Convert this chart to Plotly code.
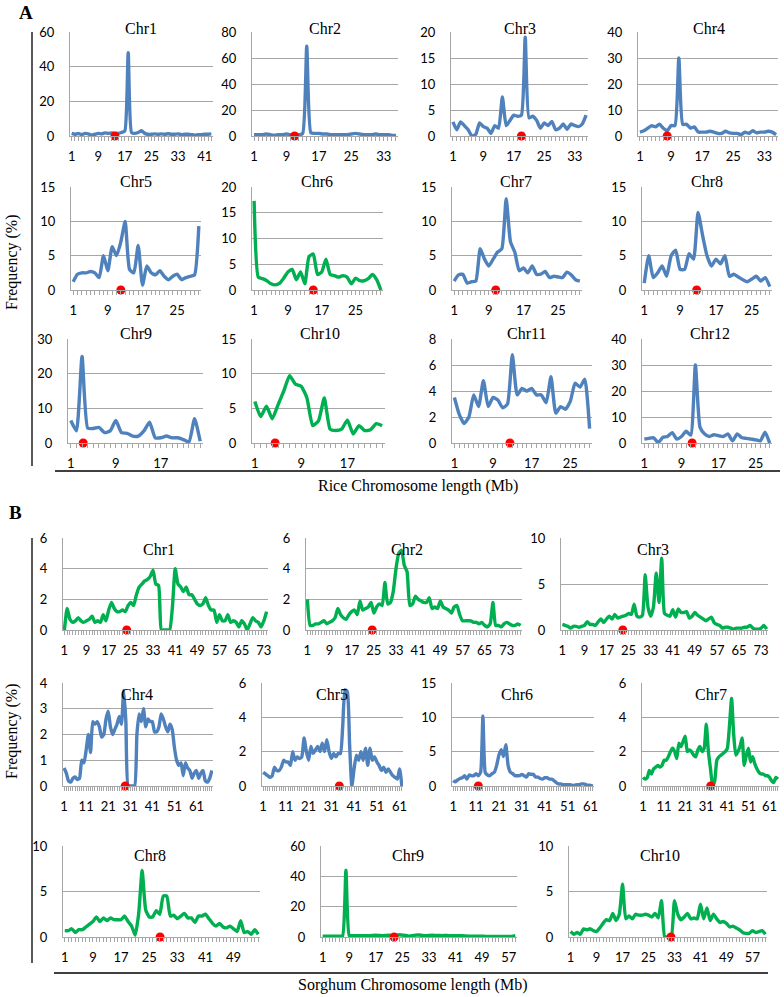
import plotly.graph_objects as go

# ---------------- DATA ----------------
rice_chr1 = [1.5,1,1.5,0.8,1.5,1.2,0.5,1,1.5,1.2,1.8,1.5,1.8,1.5,1.5,2,3,48,2,1.5,2,3,1.5,1,1,1.2,1,1.2,1,1.3,1,1,1.2,0.8,1,1,0.8,0.5,0.8,0.8,1,1,1.2]
rice_chr2 = [1,1,1,1.5,1,0.5,1,1,1.5,1,1.5,1,2,69,2.5,2,2,1.5,1.5,1,1,1,1,1,1.5,2,1.5,1,1,1,1.5,1,1,1,0.5,0.5]
rice_chr3 = [2.7,1.2,2.7,2,1.2,0,0.3,2.5,1.8,1.5,0.5,2,1.5,7.5,2,3,4,3.8,4,19,3.5,3.8,3,1.5,2.5,2,2.8,1.2,1.5,2.3,1.3,2.3,2,1.8,2.3,4]
rice_chr4 = [1.5,2,3,4,3.5,4.5,3,2,4,4,30,4.5,4.5,3,3.5,1.5,1.5,1.5,1.8,1.5,1,1,1.8,1.2,1,1,0.5,1.5,1,2,1.2,1.5,1.5,1.8,1.5,0.5]
rice_chr5 = [1.2,2.3,2.5,2.5,2.7,2.5,1.8,5,2.8,6.3,5,7,10,3,2.5,6.5,0.7,3.5,2.5,2.2,2.8,2,1.5,2,2.3,1.5,1.8,2,2.2,9.3]
rice_chr6 = [17.3,2.5,2.2,1.8,1.2,1.0,1.3,2.3,3.5,4,2,3.5,1.2,6.5,7,3,3.5,6,3,2.8,2.5,2.8,2.5,1.2,2.3,1.8,1.8,2.2,3,2,0]
rice_chr7 = [1.3,2.2,2.3,1,1.2,1.3,6,4.5,3.5,4.5,5.5,6,13.3,7,5.5,2.8,3.2,2.5,3.5,2.3,2.3,2.7,1.8,2,1.9,1.8,2.6,2.2,1.5,1.3]
rice_chr8 = [1,5,1.8,2.5,3.5,2,5,5.8,3,3,5.3,4.5,11.3,8,5,3.5,4.5,3.8,5,2,2.3,1.9,1.5,1.2,1.6,2,1.3,1.8,0.5]
rice_chr9 = [6.5,3.5,25,4.3,4.2,4.5,3,3.5,6.5,3,2.8,2,2,3.5,6,1.5,1.5,2,1.5,1.5,1,0.3,7,0.5]
rice_chr10 = [6,3.8,5.3,3.5,5.5,7.5,9.7,8.5,8.2,6.5,2.5,3.2,6.5,2,1.8,2,3.3,1.3,2.5,1.8,1.9,2.8,2.5]
rice_chr11 = [3.5,2.2,1.5,2,3.7,2.8,4.8,2.8,3.5,3.3,2.7,3,6.8,3.7,4.2,4,4.2,3.7,3.7,3.1,5.1,2.3,2.8,2.6,3.2,4.6,4.3,4.9,1.1]
rice_chr12 = [1.5,1.8,2,0.2,2.2,2.5,4,1.5,2.5,4.5,3,30,6,3.5,2.5,3.2,2.8,2.5,3.5,0.8,3.5,2,1.8,1.5,1.2,0.8,4.2,0]

sorghum_chr1 = [0,1.4,0.7,0.5,0.6,0.8,0.6,0.5,0.6,0.7,0.9,0.5,0.6,0.5,1.0,0.6,1.3,1.8,1.4,1.2,1.2,1.3,1.2,1.6,1.8,1.6,2.3,2.8,3.0,3.2,3.3,3.5,3.9,3.0,2.9,0,0,0,0,1.5,4.0,3.0,2.8,2.5,2.8,2.3,2.3,2.0,1.7,1.6,1.7,2.1,1.6,1.3,1.3,0.5,1.0,0.6,0.6,1.0,0.5,0.6,0.5,0.2,0.6,0.4,0,0.4,0.8,0.6,0.5,0.2,0.6,1.2]
sorghum_chr2 = [2,0.3,0.3,0.4,0.4,0.5,0.6,0.4,0.5,0.6,0.8,1.4,1.0,0.8,0.7,1.0,1.2,1.3,1.0,1.9,1.3,1.4,1.5,1.8,1.1,1.5,1.7,1.6,3.1,1.7,1.8,2.5,4.0,5.0,5.2,4.2,3.8,1.6,1.7,2.2,2.0,1.9,1.8,1.8,2.1,1.4,1.5,1.4,1.9,1.5,1.4,1.3,1.1,1.5,1.6,1.0,0.6,0.6,0.6,0.6,0.5,0.5,0.4,0.5,0.3,0.2,0.4,1.8,0.3,0.3,0.2,0.4,0.5,0.4,0.3,0.3,0.4,0.3]
sorghum_chr3 = [0.6,0.5,0.4,0.2,0.4,0.4,0.3,0.4,0.5,0.9,0.6,0.6,0.5,0.9,1.2,0.8,1.2,1.5,1.2,1.7,1.3,1.4,1.5,1.6,1.8,1.7,2.8,1.5,1.4,1.6,6.0,2.5,1.5,2.5,6.2,3.0,7.8,1.8,1.6,1.5,2.2,1.4,2.3,1.9,1.9,2.0,1.3,1.5,1.9,1.6,1.4,1.2,1.0,1.2,1.4,0.8,0.6,0.5,0.2,0.3,0.3,0.2,0.1,0.2,0.2,0.2,0.3,0.3,0.5,0.2,0.1,0.1,0.2,0.5,0.1]
sorghum_chr4 = [0.7,0.5,0.2,0.15,0.3,0.35,0.25,0.3,1.0,0.9,1.4,2.0,1.3,2.5,2.4,2.5,2.3,1.9,2.0,2.6,2.9,2.3,2.0,2.2,2.4,2.7,2.4,3.7,2.5,0,0,0,0,2.0,2.8,2.5,3.0,2.3,2.6,2.5,2.5,2.1,2.1,2.3,2.8,2.6,2.3,2.1,2.4,2.2,1.5,1.0,0.8,0.9,0.4,0.9,0.7,0.6,0.3,0.5,0.6,0.3,0.5,0.6,0.2,0.15,0.3,0.6]
sorghum_chr5 = [0.8,0.7,0.6,0.5,0.6,1.1,0.9,0.9,1.1,1.5,1.4,1.4,1.2,2.0,1.5,1.7,1.6,1.7,2.8,2.0,1.5,2.3,1.9,2.1,2.3,2.0,2.5,2.0,2.7,2.0,1.6,1.9,1.7,1.9,1.9,3.5,5.6,5.5,2.5,0,1.0,1.8,1.5,2.0,1.5,2.2,1.2,2.2,1.5,1.7,1.4,1.2,0.9,1.1,0.8,1.0,0.8,0.6,0.5,0.4,1.0,0]
sorghum_chr6 = [0.8,0.6,0.9,1.1,1.2,1.5,1.0,1.6,1.5,1.5,1.8,1.5,2.0,10.2,2.0,1.6,1.5,1.8,2.0,3.0,4.5,5.3,4.3,6.0,3.0,2.0,1.8,1.5,1.5,1.5,1.7,1.5,1.3,1.8,1.7,1.7,1.3,1.3,1.1,1.0,1.2,1.2,1.0,1.0,0.8,0.5,0.3,0.3,0.2,0.2,0.2,0.2,0.1,0.1,0.2,0.2,0.3,0.3,0.2,0.1,0.1,0]
sorghum_chr7 = [0.5,0.4,0.5,0.9,0.7,1.0,1.1,1.2,1.1,1.2,1.5,1.5,1.7,2.0,2.2,2.0,1.6,2.5,2.3,2.6,2.9,2.0,2.1,2.0,1.8,1.7,2.1,2.3,2.0,2.2,3.6,2.0,1.0,0,0.3,1.5,1.7,1.8,1.9,2.0,2.2,3.5,5.1,3.0,1.8,2.0,2.3,2.8,1.2,1.8,2.2,1.4,1.7,1.3,1.0,0.8,0.7,0.7,0.6,0.6,0.5,0.3,0.2,0.5,0.4]
sorghum_chr8 = [0.7,0.7,0.9,0.5,0.8,0.8,1.1,1.4,1.7,2.2,1.7,2.1,1.8,2.1,1.9,1.9,1.9,2.3,1.7,1.2,0.2,2.5,7.3,3.0,2.2,2.2,2.9,2.5,4.5,4.5,2.3,2.4,2.0,2.3,2.6,2.1,2.1,1.6,2.3,2.3,2.5,2.0,1.5,1.2,1.5,1.1,1.0,1.2,0.9,0.6,1.8,0.5,0.6,0.3,0.8,0.3]
sorghum_chr9 = [0.5,0.5,0.5,0.5,0.5,0.5,0.8,44,1.0,0.8,0.8,0.8,0.8,0.9,0.8,1.0,1.2,1.0,0.8,1.0,1.2,0.8,1.0,1.5,1.2,1.0,0.6,0.8,1.2,1.3,1.0,0.9,1.0,1.2,1.0,1.0,0.9,1.0,0.9,0.9,0.8,0.8,0.8,0.7,0.6,0.6,0.5,0.5,0.5,0.4,0.4,0.4,0.4,0.3,0.3,0.3,0.3,0.4,0.8]
sorghum_chr10 = [0.6,0.3,0.5,0.3,0.9,0.8,0.9,0.7,0.6,1.0,1.5,1.9,1.8,2.6,1.8,2.5,5.8,2.0,2.3,2.0,2.5,2.4,2.4,2.5,2.4,2.2,2.6,2.1,4.0,0,0,0,4.0,2.5,1.9,2.2,2.6,2.0,2.1,2.0,3.6,2.0,3.2,1.8,2.5,2.0,1.6,1.7,1.5,1.1,1.2,1.0,0.8,0.5,0.4,0.4,0.7,0.5,0.6,0.7,0.3]

rice_centromeres = [14, 11, 19, 8, 12, 15, 10.6, 12.7, 3.2, 4.5, 12.5, 11.3]
sorghum_centromeres = [23.5, 24.4, 22.9, 28.7, 34.5, 12, 33.1, 28.1, 22.5, 31.9]

rice_ymax = [60, 80, 20, 40, 15, 20, 15, 15, 30, 15, 8, 40]
rice_dtick = [20, 20, 5, 10, 5, 5, 5, 5, 10, 5, 2, 10]
sorghum_ymax = [6, 6, 10, 4, 6, 15, 6, 10, 60, 10]
sorghum_dtick = [2, 2, 5, 1, 2, 5, 2, 5, 20, 5]
sorghum_xstep = [8, 8, 8, 10, 10, 10, 10, 8, 8, 8]

chr_names_rice = ["Chr%d" % i for i in range(1, 13)]
chr_names_sorghum = ["Chr%d" % i for i in range(1, 11)]

BLUE = "#4F81BD"
GREEN = "#00B050"
rice_colors = [BLUE]*5 + [GREEN] + [BLUE]*3 + [GREEN] + [BLUE]*2
sorghum_colors = [GREEN]*3 + [BLUE]*3 + [GREEN]*4

# ---------------- LAYOUT (pixel boxes: x0, x1, ytop, yzero, title_x, title_y) ----------------
rice_boxes = [
    (70, 213, 32, 136, 141, 28), (252, 398, 32, 136, 325, 28),
    (451, 588, 32, 136, 520, 28), (638, 778, 32, 136, 709, 28),
    (71, 201, 187, 290, 136, 182), (252, 383, 187, 290, 317, 182),
    (452, 582, 187, 290, 516, 182), (642, 772, 187, 290, 707, 182),
    (68, 203, 339, 443, 136, 334), (252, 385, 339, 443, 320, 334),
    (452, 592, 339, 443, 526, 334), (642, 772, 339, 443, 710, 334),
]
sorghum_boxes = [
    (63, 268, 538, 630, 159, 549), (306, 522, 538, 630, 407, 549),
    (561, 768, 538, 630, 653, 549), (63, 213, 683, 786, 137, 694),
    (262, 403, 683, 786, 332, 694), (452, 594, 683, 786, 517, 694),
    (642, 779, 683, 786, 711, 694), (63, 260, 846, 937, 150, 855),
    (321, 517, 846, 937, 408, 855), (569, 767, 846, 937, 660, 855),
]

W, H = 784, 997
GRID = "#A6A6A6"
TICKFONT = dict(family="Lato, Open Sans, sans-serif", size=13, color="#000000")
TITLEFONT = dict(family="Liberation Serif, Times New Roman, serif", size=16, color="#000000")

rice_series = [rice_chr1, rice_chr2, rice_chr3, rice_chr4, rice_chr5, rice_chr6,
               rice_chr7, rice_chr8, rice_chr9, rice_chr10, rice_chr11, rice_chr12]
sorghum_series = [sorghum_chr1, sorghum_chr2, sorghum_chr3, sorghum_chr4, sorghum_chr5,
                  sorghum_chr6, sorghum_chr7, sorghum_chr8, sorghum_chr9, sorghum_chr10]

panels = []
for i in range(12):
    panels.append((chr_names_rice[i], rice_series[i], rice_colors[i], rice_ymax[i], rice_dtick[i], 8,
                   rice_centromeres[i], rice_boxes[i]))
for i in range(10):
    panels.append((chr_names_sorghum[i], sorghum_series[i], sorghum_colors[i], sorghum_ymax[i],
                   sorghum_dtick[i], sorghum_xstep[i], sorghum_centromeres[i], sorghum_boxes[i]))

fig = go.Figure()
layout = {}
annotations = []
for k, (name, vals, color, ymax, dt, xstep, cen, box) in enumerate(panels):
    idx = k + 1
    xa = "x" if idx == 1 else "x%d" % idx
    ya = "y" if idx == 1 else "y%d" % idx
    n = len(vals)
    x0, x1, yt, yz, tx, ty = box
    cats = list(range(1, n + 1))
    fig.add_trace(go.Scatter(x=cats, y=vals, mode="lines",
                             line=dict(color=color, width=3.4, shape="spline", smoothing=0.5),
                             xaxis=xa, yaxis=ya, showlegend=False, hoverinfo="skip"))
    fig.add_trace(go.Scatter(x=[cen], y=[0], mode="markers",
                             marker=dict(color="#FF0000", size=9, line=dict(width=0)),
                             cliponaxis=False, xaxis=xa, yaxis=ya, showlegend=False, hoverinfo="skip"))
    ticktext = [str(c) if (c - 1) % xstep == 0 else "" for c in cats]
    layout["xaxis" if idx == 1 else "xaxis%d" % idx] = dict(
        domain=[x0 / W, x1 / W], anchor=ya, range=[0.5, n + 0.5],
        tickmode="array", tickvals=cats, ticktext=ticktext,
        showgrid=False, zeroline=False, showline=True, linecolor=GRID, linewidth=1,
        ticks="outside", ticklen=4, tickwidth=1, tickcolor=GRID, ticklabelstandoff=4,
        automargin=False, tickfont=TICKFONT, fixedrange=True)
    layout["yaxis" if idx == 1 else "yaxis%d" % idx] = dict(
        domain=[1 - yz / H, 1 - yt / H], anchor=xa, range=[0, ymax],
        tickmode="linear", tick0=0, dtick=dt,
        showgrid=True, gridcolor=GRID, gridwidth=1, zeroline=False,
        showline=True, linecolor=GRID, linewidth=1, ticks="", ticklabelstandoff=12,
        automargin=False, tickfont=TICKFONT, fixedrange=True)
    annotations.append(dict(text=name, x=tx / W, y=1 - ty / H, xref="paper", yref="paper",
                            showarrow=False, xanchor="center", yanchor="middle", font=TITLEFONT))

# panel labels and axis titles
annotations += [
    dict(text="<b>A</b>", x=26 / W, y=1 - 12 / H, xref="paper", yref="paper", showarrow=False,
         xanchor="center", yanchor="middle", font=dict(family="Liberation Serif, serif", size=19, color="#000")),
    dict(text="<b>B</b>", x=16 / W, y=1 - 512 / H, xref="paper", yref="paper", showarrow=False,
         xanchor="center", yanchor="middle", font=dict(family="Liberation Serif, serif", size=19, color="#000")),
    dict(text="Frequency (%)", x=12 / W, y=1 - 262 / H, xref="paper", yref="paper", showarrow=False,
         textangle=-90, xanchor="center", yanchor="middle", font=TITLEFONT),
    dict(text="Frequency (%)", x=12 / W, y=1 - 731 / H, xref="paper", yref="paper", showarrow=False,
         textangle=-90, xanchor="center", yanchor="middle", font=TITLEFONT),
    dict(text="Rice Chromosome length (Mb)", x=418 / W, y=1 - 486 / H, xref="paper", yref="paper",
         showarrow=False, xanchor="center", yanchor="middle", font=TITLEFONT),
    dict(text="Sorghum Chromosome length (Mb)", x=412 / W, y=1 - 985 / H, xref="paper", yref="paper",
         showarrow=False, xanchor="center", yanchor="middle", font=TITLEFONT),
]

shapes = [
    dict(type="line", xref="paper", yref="paper", x0=32 / W, x1=32 / W, y0=1 - 32 / H, y1=1 - 466 / H,
         line=dict(color="#595959", width=2)),
    dict(type="line", xref="paper", yref="paper", x0=55 / W, x1=780 / W, y0=1 - 471 / H, y1=1 - 471 / H,
         line=dict(color="#000000", width=1.5)),
    dict(type="line", xref="paper", yref="paper", x0=32 / W, x1=32 / W, y0=1 - 538 / H, y1=1 - 963 / H,
         line=dict(color="#595959", width=2)),
    dict(type="line", xref="paper", yref="paper", x0=54 / W, x1=768 / W, y0=1 - 973 / H, y1=1 - 973 / H,
         line=dict(color="#000000", width=1.5)),
]

fig.update_layout(width=W, height=H, autosize=False,
                  margin=dict(l=0, r=0, t=0, b=0, pad=0, autoexpand=False),
                  paper_bgcolor="white", plot_bgcolor="white",
                  annotations=annotations, shapes=shapes, showlegend=False, **layout)
fig.write_html("out.html", config={"responsive": False, "displayModeBar": False},
               post_script="document.body.style.margin='0px';document.body.style.overflow='hidden';")
